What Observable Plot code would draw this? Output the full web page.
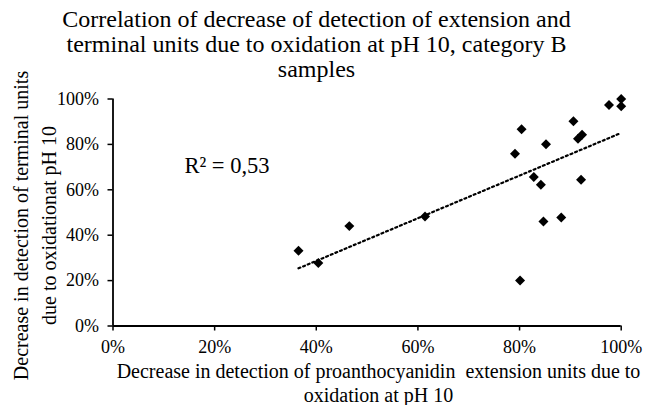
<!DOCTYPE html>
<html>
<head>
<meta charset="utf-8">
<script src="https://cdn.jsdelivr.net/npm/d3@7"></script>
<script src="https://cdn.jsdelivr.net/npm/@observablehq/plot@0.6"></script>
<style>
  html, body { margin: 0; padding: 0; background: #fff; }
</style>
</head>
<body>
<div id="chart"></div>
<script>
// Data (fractions)
const extensionDecrease = [0.365, 0.404, 0.465, 0.614, 0.791, 0.804, 0.801, 0.852, 0.828, 0.842, 0.847, 0.882, 0.906, 0.915, 0.923, 0.921, 0.976, 1.000, 1.000];
const terminalDecrease  = [0.332, 0.278, 0.440, 0.482, 0.759, 0.867, 0.200, 0.801, 0.656, 0.622, 0.460, 0.478, 0.902, 0.825, 0.842, 0.644, 0.974, 1.000, 0.968];

const tickValues = [0, 0.2, 0.4, 0.6, 0.8, 1.0];
const tickLabels = ["0%", "20%", "40%", "60%", "80%", "100%"];

const titleText = "Correlation of decrease of detection of extension and\nterminal units due to oxidation at pH 10, category B\nsamples";
const xTitle = "Decrease in detection of proanthocyanidin  extension units due to\noxidation at pH 10";
const yTitle = "Decrease in detection of terminal units\ndue to oxidationat pH 10";
const r2Label = "R\u00B2 = 0,53";

const points = extensionDecrease.map((x, i) => ({x, y: terminalDecrease[i]}));
const fmt = v => tickLabels[tickValues.findIndex(t => Math.abs(t - v) < 1e-9)];

const chart = Plot.plot({
  width: 659,
  height: 405,
  marginLeft: 112.5,
  marginRight: 38.3,
  marginTop: 98.5,
  marginBottom: 79.5,
  style: { fontFamily: "'Liberation Serif', 'Times New Roman', serif", background: "#fff", color: "#000" },
  x: { domain: [0, 1] },
  y: { domain: [0, 1] },
  marks: [
    Plot.axisX({ ticks: tickValues, tickFormat: fmt, tickSize: 5, tickPadding: 9, fontSize: 18, strokeWidth: 1.5, label: null }),
    Plot.axisY({ ticks: tickValues, tickFormat: fmt, tickSize: 5, tickPadding: 9, fontSize: 18, strokeWidth: 1.5, label: null }),
    Plot.ruleY([0], { stroke: "#000", strokeWidth: 1.8 }),
    Plot.ruleX([0], { stroke: "#000", strokeWidth: 1.8 }),
    Plot.linearRegressionY(points, { x: "x", y: "y", ci: 0, stroke: "#000", strokeWidth: 2.2, strokeDasharray: "2,3" }),
    Plot.dot(points, { x: "x", y: "y", symbol: "diamond2", r: 4.5, fill: "#000", stroke: null }),
    Plot.text([r2Label], { frameAnchor: "top-left", dx: 114, dy: 67, fontSize: 22.5, lineAnchor: "middle", textAnchor: "middle" }),
    Plot.text([titleText], { frameAnchor: "top", dx: -50.6, dy: -90, fontSize: 24, lineHeight: 1.05, lineAnchor: "top", textAnchor: "middle" }),
    Plot.text([xTitle], { frameAnchor: "bottom", dx: 11.4, dy: 35, fontSize: 20, lineHeight: 1.2, lineAnchor: "top", textAnchor: "middle" }),
    Plot.text([yTitle], { frameAnchor: "left", rotate: -90, dx: -79.5, dy: 13, fontSize: 20, lineHeight: 1.4, lineAnchor: "middle", textAnchor: "middle" })
  ]
});
document.getElementById("chart").appendChild(chart);
</script>
</body>
</html>
